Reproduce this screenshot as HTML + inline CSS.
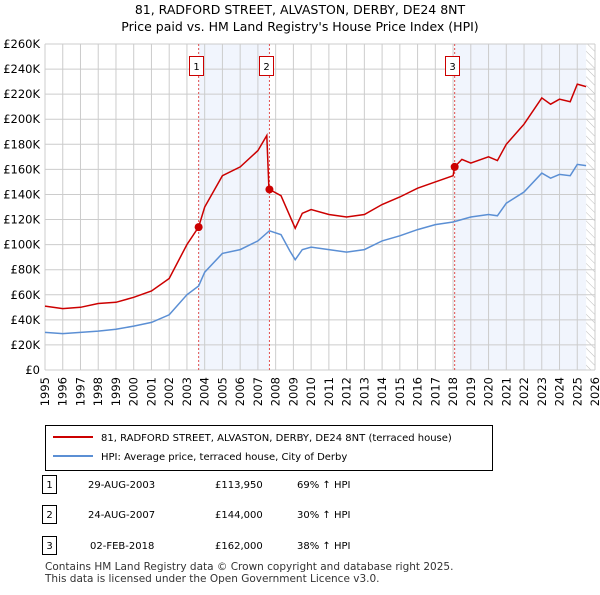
<!DOCTYPE html>
<html><head><meta charset="utf-8"><style>
body{margin:0;background:#fff;font-family:"Liberation Sans","DejaVu Sans",sans-serif;color:#000}
svg text{font-family:"DejaVu Sans","Liberation Sans",sans-serif}
</style></head><body>
<svg width="600" height="590" viewBox="0 0 600 590" xmlns="http://www.w3.org/2000/svg">
<defs><pattern id="hatch" width="6" height="6" patternUnits="userSpaceOnUse" patternTransform="rotate(-45)"><line x1="0" y1="0" x2="0" y2="6" stroke="#bbb" stroke-width="1"/></pattern></defs>
<text x="300" y="14" text-anchor="middle" font-size="12.5">81, RADFORD STREET, ALVASTON, DERBY, DE24 8NT</text>
<text x="300" y="31" text-anchor="middle" font-size="12.5">Price paid vs. HM Land Registry's House Price Index (HPI)</text>
<g id="plot"></g>
<g id="legend">
<rect x="45.5" y="425.5" width="447" height="45" fill="#fff" stroke="#000"/>
<line x1="53" y1="437" x2="93" y2="437" stroke="#cc0000" stroke-width="2"/>
<text x="101" y="441" font-size="10">81, RADFORD STREET, ALVASTON, DERBY, DE24 8NT (terraced house)</text>
<line x1="53" y1="456" x2="93" y2="456" stroke="#5b8fd4" stroke-width="2"/>
<text x="101" y="460" font-size="10">HPI: Average price, terraced house, City of Derby</text>
</g>
<g font-size="10">
<rect x="42.5" y="475.5" width="14" height="18" fill="#fff" stroke="#000"/><text x="49.5" y="488" text-anchor="middle">1</text>
<text x="88" y="488">29-AUG-2003</text><text x="215" y="488">£113,950</text><text x="297" y="488">69% ↑ HPI</text>
<rect x="42.5" y="505.5" width="14" height="18" fill="#fff" stroke="#000"/><text x="49.5" y="518" text-anchor="middle">2</text>
<text x="88" y="518">24-AUG-2007</text><text x="215" y="518">£144,000</text><text x="297" y="518">30% ↑ HPI</text>
<rect x="42.5" y="536.5" width="14" height="18" fill="#fff" stroke="#000"/><text x="49.5" y="549" text-anchor="middle">3</text>
<text x="90" y="549">02-FEB-2018</text><text x="215" y="549">£162,000</text><text x="297" y="549">38% ↑ HPI</text>
</g>
<text x="45" y="570" font-size="10.5" fill="#333">Contains HM Land Registry data © Crown copyright and database right 2025.</text>
<text x="45" y="582" font-size="10.5" fill="#333">This data is licensed under the Open Government Licence v3.0.</text>
</svg>
<script>
const hpiYears=[1995,1996,1997,1998,1999,2000,2001,2002,2003,2003.66,2004,2005,2006,2007,2007.65,2008.3,2008.8,2009.1,2009.5,2010,2011,2012,2013,2014,2015,2016,2017,2018,2019,2020,2020.5,2021,2022,2023,2023.5,2024,2024.6,2025,2025.5];
const hpiValues=[30,29,30,31,32.5,35,38,44,60,67,78,93,96,103,111,108,95,88,96,98,96,94,96,103,107,112,116,118,122,124,123,133,142,157,153,156,155,164,163];
const priceYears=[1995,1996,1997,1998,1999,2000,2001,2002,2003,2003.66,2004,2005,2006,2007,2007.5,2007.62,2007.65,2008.3,2008.8,2009.1,2009.5,2010,2011,2012,2013,2014,2015,2016,2017,2018,2018.09,2018.5,2019,2020,2020.5,2021,2022,2023,2023.5,2024,2024.6,2025,2025.5];
const priceValues=[51,49,50,53,54,58,63,73,100,114,130,155,162,175,187,145,144,139,123,113,125,128,124,122,124,132,138,145,150,155,162,168,165,170,167,180,196,217,212,216,214,228,226];
const saleYears=[2003.66,2007.65,2018.09];
const saleValues=[113.95,144,162];
const saleLabels=["1","2","3"];
const yTicks=[0,20,40,60,80,100,120,140,160,180,200,220,240,260];
const yTickLabels=["£0","£20K","£40K","£60K","£80K","£100K","£120K","£140K","£160K","£180K","£200K","£220K","£240K","£260K"];
const xTicks=[1995,1996,1997,1998,1999,2000,2001,2002,2003,2004,2005,2006,2007,2008,2009,2010,2011,2012,2013,2014,2015,2016,2017,2018,2019,2020,2021,2022,2023,2024,2025,2026];
const X0=45,X1=595,Y0=370,Y1=44;
const xs=y=>X0+(y-1995)/(2026-1995)*(X1-X0);
const ys=v=>Y0-v/260*(Y0-Y1);
const NS="http://www.w3.org/2000/svg";
const plot=document.getElementById('plot');
function mk(t,a){const e=document.createElementNS(NS,t);for(const k in a)e.setAttribute(k,a[k]);plot.appendChild(e);return e;}
let r=mk('rect',{x:xs(saleYears[0]),y:Y1,width:xs(saleYears[1])-xs(saleYears[0]),height:Y0-Y1,fill:'#eef3fc',opacity:0.8});


r=mk('rect',{x:xs(saleYears[2]),y:Y1,width:xs(2025.5)-xs(saleYears[2]),height:Y0-Y1,fill:'#eef3fc',opacity:0.8});


r=mk('rect',{x:xs(2025.5),y:Y1,width:X1-xs(2025.5),height:Y0-Y1,fill:'url(#hatch)'});


yTicks.forEach((v,i)=>{
 const l=mk('line',{x1:X0,x2:X1,y1:ys(v),y2:ys(v),stroke:'#ccc','stroke-width':1});
 
 
 const t=mk('text',{x:X0-5,y:ys(v)+4,'text-anchor':'end','font-size':11.5});
 t.textContent=yTickLabels[i];
 
 
});
xTicks.forEach(y=>{
 const l=mk('line',{x1:xs(y),x2:xs(y),y1:Y1,y2:Y0,stroke:'#ccc','stroke-width':1});
 
 
 const t=mk('text',{x:xs(y),y:Y0+7,'text-anchor':'end','font-size':11.5,transform:`rotate(-90 ${xs(y)} ${Y0+7})`,dy:'4'});
 t.textContent=y;
 
 
});
saleYears.forEach((y,i)=>{
 const l=mk('line',{x1:xs(y),x2:xs(y),y1:Y1,y2:Y0,stroke:'#e05050','stroke-width':1,'stroke-dasharray':'2,2'});
 
 
 const b=mk('rect',{x:Math.round(xs(y)-10)+0.5,y:56.5,width:14,height:19,fill:'#fff',stroke:'#cc0000'});
 
 
 const t=mk('text',{x:Math.round(xs(y)-10)+7.5,y:70,'text-anchor':'middle','font-size':10});
 t.textContent=saleLabels[i];
 
 
});
const path=(xsA,vs)=>xsA.map((y,i)=>(i?'L':'M')+xs(y).toFixed(1)+','+ys(vs[i]).toFixed(1)).join('');
let p=mk('path',{d:path(hpiYears,hpiValues),fill:'none',stroke:'#5b8fd4','stroke-width':1.5});


p=mk('path',{d:path(priceYears,priceValues),fill:'none',stroke:'#cc0000','stroke-width':1.5});


saleYears.forEach((y,i)=>{
 const c=mk('circle',{cx:xs(y),cy:ys(saleValues[i]),r:4,fill:'#cc0000'});
 
 
});
</script>
</body></html>
